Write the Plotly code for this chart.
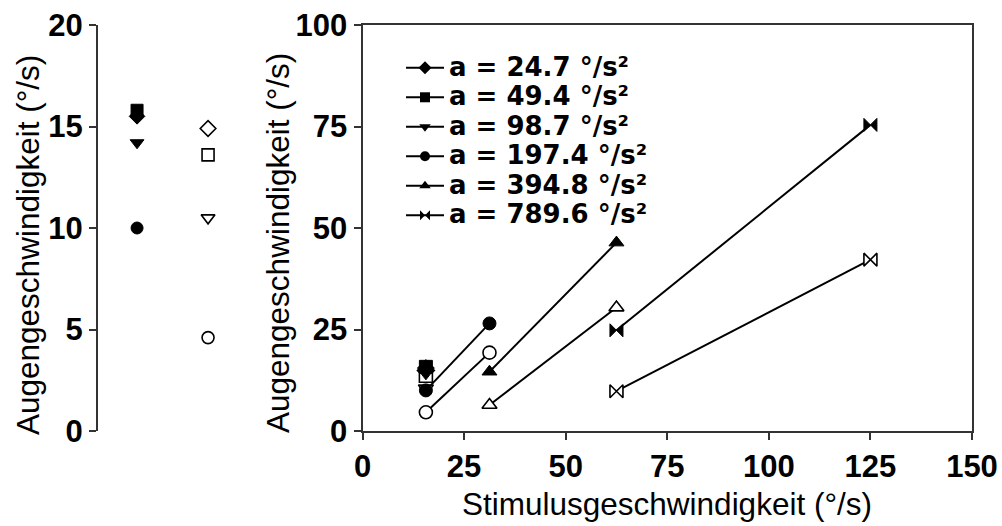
import plotly.graph_objects as go

# Accelerations (°/s²) and their marker symbols
accel_labels = ["24.7", "49.4", "98.7", "197.4", "394.8", "789.6"]
symbols = ["diamond", "square", "triangle-down", "circle", "triangle-up", "bowtie"]

# Stimulus speeds (°/s) tested for each acceleration
stim_speed = [
    [15.6],
    [15.6],
    [15.6],
    [15.6, 31.25],
    [31.25, 62.5],
    [62.5, 125],
]

# Eye velocity (°/s): filled = first condition, open = second condition
eye_filled = [
    [15.5],
    [15.8],
    [14.2],
    [10.0, 26.5],
    [14.6, 46.4],
    [24.8, 75.4],
]
eye_open = [
    [14.9],
    [13.6],
    [10.5],
    [4.6, 19.3],
    [6.4, 30.4],
    [9.8, 42.2],
]

# Columns of the detail panel (filled / open)
detail_columns = [0, 1]

y_title = "Augengeschwindigkeit (°/s)"
x_title = "Stimulusgeschwindigkeit (°/s)"

W, H = 1002, 526
TICK_FONT = dict(family="Arial, Liberation Sans, sans-serif", size=31, color="black", weight="bold")
TITLE_FONT = dict(family="Arial, Liberation Sans, sans-serif", size=31.5, color="black")
LINE_COLOR = "#333333"

fig = go.Figure()


def px_x(p):
    return p / W


def px_y(p):
    return (H - p) / H


# Detail panel: values at the lowest stimulus speed, split in two columns
for i in range(4):
    fig.add_trace(go.Scatter(
        x=[detail_columns[0]], y=[eye_filled[i][0]],
        mode="markers", xaxis="x", yaxis="y", showlegend=False,
        marker=dict(symbol=symbols[i], size=12, color="black",
                    line=dict(color="black", width=1)),
    ))
    fig.add_trace(go.Scatter(
        x=[detail_columns[1]], y=[eye_open[i][0]],
        mode="markers", xaxis="x", yaxis="y", showlegend=False,
        marker=dict(symbol=symbols[i], size=12, color="white",
                    line=dict(color="black", width=1.6)),
    ))

# Main panel: eye velocity vs. stimulus speed
for i in range(len(accel_labels)):
    fig.add_trace(go.Scatter(
        x=stim_speed[i], y=eye_open[i],
        mode="lines+markers", xaxis="x2", yaxis="y2", showlegend=False,
        line=dict(color="black", width=2),
        marker=dict(symbol=symbols[i], size=13, color="white",
                    line=dict(color="black", width=1.6)),
    ))
for i in range(len(accel_labels)):
    fig.add_trace(go.Scatter(
        x=stim_speed[i], y=eye_filled[i],
        mode="lines+markers", xaxis="x2", yaxis="y2", showlegend=False,
        line=dict(color="black", width=2),
        marker=dict(symbol=symbols[i], size=13, color="black",
                    line=dict(color="black", width=1)),
    ))

# Legend entries
for i, a in enumerate(accel_labels):
    fig.add_trace(go.Scatter(
        x=[None], y=[None], xaxis="x2", yaxis="y2",
        mode="lines+markers",
        name=f'<span style="font-size:26px">a = {a} °/s²</span>',
        line=dict(color="black", width=2),
        marker=dict(symbol=symbols[i], size=10, color="black"),
    ))

y_dom = [px_y(431), px_y(25)]
axis_common = dict(ticks="outside", ticklen=7, tickwidth=2, tickcolor=LINE_COLOR,
                   showline=True, linecolor=LINE_COLOR, linewidth=2,
                   showgrid=False, zeroline=False, tickfont=TICK_FONT,
                   automargin=False, fixedrange=True)

fig.update_layout(
    template="none",
    width=W, height=H,
    margin=dict(l=0, r=0, t=0, b=0, pad=0, autoexpand=False),
    paper_bgcolor="white", plot_bgcolor="white",
    xaxis=dict(domain=[px_x(98), px_x(240)], range=[-0.55, 1.45],
               visible=False, fixedrange=True, automargin=False),
    yaxis=dict(domain=y_dom, anchor="x", range=[0, 20],
               tickvals=[0, 5, 10, 15, 20], **axis_common),
    xaxis2=dict(domain=[px_x(362.5), px_x(972)], anchor="y2", range=[0, 150],
                tickvals=[0, 25, 50, 75, 100, 125, 150], mirror=True,
                **axis_common),
    yaxis2=dict(domain=y_dom, anchor="x2", range=[0, 100],
                tickvals=[0, 25, 50, 75, 100], mirror=True, **axis_common),
    legend=dict(x=px_x(401), y=px_y(48), xanchor="left", yanchor="top",
                font=dict(family="DejaVu Sans, sans-serif", size=20.4,
                          color="black", weight="bold"),
                itemwidth=38, bgcolor="rgba(0,0,0,0)", borderwidth=0,
                tracegroupgap=0),
    showlegend=True,
    annotations=[
        dict(text=y_title, xref="paper", yref="paper", x=px_x(28), y=px_y(245),
             showarrow=False, textangle=-90, font=TITLE_FONT,
             xanchor="center", yanchor="middle"),
        dict(text=y_title, xref="paper", yref="paper", x=px_x(278), y=px_y(243),
             showarrow=False, textangle=-90, font=TITLE_FONT,
             xanchor="center", yanchor="middle"),
        dict(text=x_title, xref="paper", yref="paper", x=px_x(667), y=px_y(504),
             showarrow=False, font=TITLE_FONT,
             xanchor="center", yanchor="middle"),
    ],
)

fig.write_html("out.html")
